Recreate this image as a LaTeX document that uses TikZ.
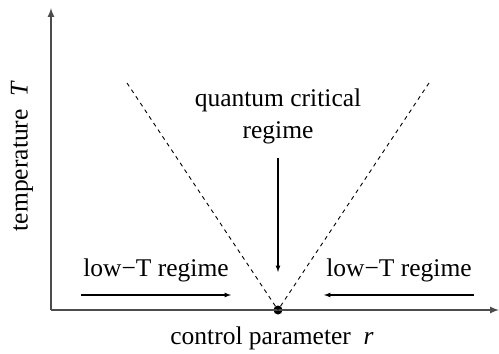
\documentclass[tikz,border=0pt]{standalone}
\usepackage{fontspec}
\setmainfont{Liberation Serif}
\usepackage{amsmath}
\usepackage{xcolor}

\begin{document}
\begin{tikzpicture}[x=1pt,y=-1pt,font=\fontsize{25.5}{32}\selectfont]
        \useasboundingbox (0,0) rectangle (499,354);
        \coordinate(o) at (51,310);
        \coordinate(top) at (51,8);
        \coordinate(right) at (499,310);
        \node[circle,fill,inner sep=0pt,minimum size=9pt](qcp) at (278,310) {};
        \coordinate(l) at (127,83);
        \coordinate(r) at (429,83);
        \draw[line width=2pt,black!70,-latex](o)--(top);
        \draw[line width=2pt,black!70,-latex](o)--(right);
        \draw[line width=0.9pt,dash pattern=on 4pt off 4pt](l)--(qcp.center);
        \draw[line width=0.9pt,dash pattern=on 4pt off 4pt](r)--(qcp.center);
        \node[align=center](qc) at (278,116) {quantum critical\\regime};
        \draw[line width=1.2pt,-latex](278,158)--(278,272);
        \node(lowl) at (156,270) {low−T regime};
        \node(lowr) at (399,270) {low−T regime};
        \draw[line width=1.2pt,-latex](81,295)--(231,295);
        \draw[line width=1.2pt,-latex](474,295)--(324,295);
        \node(xl) at (272,338) {control parameter\ \ \textit{r}};
        \node[rotate=90](yl) at (22,156) {temperature\ \ \textit{T}};
        \end{tikzpicture}
\end{document}
